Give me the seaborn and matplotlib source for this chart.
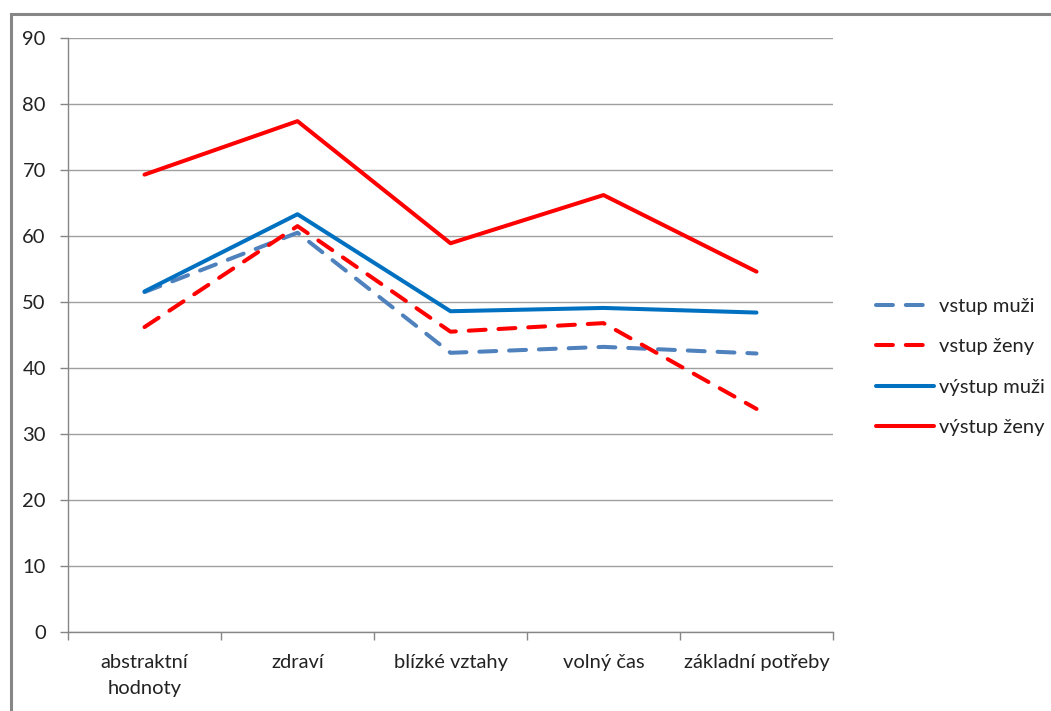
import matplotlib
matplotlib.use("Agg")
import matplotlib.pyplot as plt
import seaborn as sns
import pandas as pd
from matplotlib.patches import Rectangle
from matplotlib.ticker import FixedLocator

categories = ["abstraktní\nhodnoty", "zdraví", "blízké vztahy", "volný čas", "základní potřeby"]
vstup_muzi = [51.5, 60.5, 42.3, 43.2, 42.2]
vstup_zeny = [46.2, 61.5, 45.5, 46.8, 33.8]
vystup_muzi = [51.6, 63.3, 48.6, 49.1, 48.4]
vystup_zeny = [69.3, 77.4, 58.9, 66.2, 54.6]
series_names = ["vstup muži", "vstup ženy", "výstup muži", "výstup ženy"]
y_ticks = [0, 10, 20, 30, 40, 50, 60, 70, 80, 90]

sns.set_theme(style="white")
plt.rcParams["font.family"] = ["Lato", "DejaVu Sans"]

fig = plt.figure(figsize=(10.51, 7.11), dpi=100)
ax = fig.add_axes([68 / 1051, 1 - 632 / 711, (833 - 68) / 1051, (632 - 38) / 711])

# outer chart frame
fig.patches.append(Rectangle((11 / 1051, -0.1), 1.2, (711 - 14) / 711 + 0.1,
                             transform=fig.transFigure, fill=False,
                             edgecolor="#868686", linewidth=2.2, zorder=0))

styles = [
    ("#4F81BD", (0, (4.2, 3.2))),
    ("#FF0000", (0, (4.2, 3.2))),
    ("#0070C0", "-"),
    ("#FF0000", "-"),
]
values = [vstup_muzi, vstup_zeny, vystup_muzi, vystup_zeny]
x = list(range(len(categories)))
for name, vals, (color, ls) in zip(series_names, values, styles):
    df = pd.DataFrame({"x": x, "y": vals})
    sns.lineplot(data=df, x="x", y="y", ax=ax, color=color, linewidth=2.9,
                 linestyle=ls, label=name, legend=False,
                 solid_capstyle="round", dash_capstyle="round")
handles = ax.get_lines()

ax.set_xlim(-0.5, len(categories) - 0.5)
ax.set_ylim(0, 90)
ax.set_yticks(y_ticks)
ax.set_xticks(x)
ax.set_xticklabels(categories, fontsize=14.5, color="#222222", linespacing=1.6)
ax.xaxis.set_minor_locator(FixedLocator([i - 0.5 for i in range(len(categories) + 1)]))
ax.tick_params(axis="x", which="major", length=0, pad=16)
ax.tick_params(axis="x", which="minor", length=6, width=1, color="#868686", direction="out", bottom=True)
ax.tick_params(axis="y", which="major", length=6, width=1, color="#868686", direction="out", left=True,
               labelsize=14.5, labelcolor="#222222", pad=10)
ax.grid(axis="y", color="#A0A0A0", linewidth=1)
ax.set_axisbelow(True)
ax.set_xlabel("")
ax.set_ylabel("")
for side in ["top", "right"]:
    ax.spines[side].set_visible(False)
for side in ["left", "bottom"]:
    ax.spines[side].set_color("#868686")
    ax.spines[side].set_linewidth(1)

fig.legend(handles, series_names, loc="upper left", bbox_to_anchor=(858 / 1051, 1 - 280 / 711),
           frameon=False, fontsize=14.5, handlelength=2.85, handletextpad=0.25,
           labelspacing=1.15, labelcolor="#222222")

fig.savefig("out.png", dpi=100)
